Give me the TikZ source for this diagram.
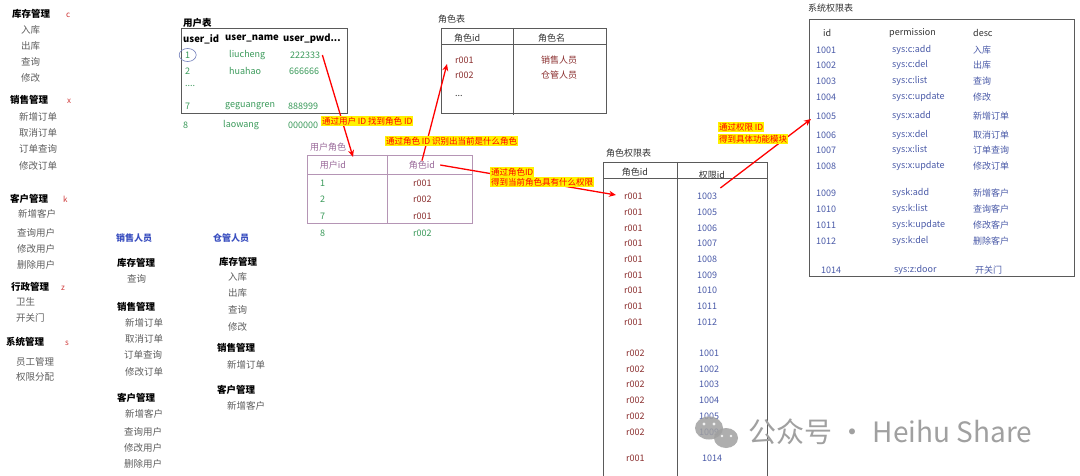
\documentclass[tikz,border=0pt]{standalone}
\usepackage{fontspec}
\setmainfont{Noto Sans CJK SC}
\usetikzlibrary{arrows.meta}
\definecolor{itemgray}{HTML}{5E5E5E}
\definecolor{letred}{HTML}{D03A3A}
\definecolor{staffblue}{HTML}{3A4FC0}
\definecolor{dgreen}{HTML}{3A9A5A}
\definecolor{dred}{HTML}{8B2F2F}
\definecolor{mauve}{HTML}{9A6A9A}
\definecolor{mauveline}{HTML}{B595B5}
\definecolor{pblue}{HTML}{4A5AA8}
\definecolor{tline}{HTML}{5A5A5A}
\definecolor{dtext}{HTML}{333333}
\definecolor{wm}{HTML}{A0A0A0}
\tikzset{
  txt/.style={anchor=west,inner sep=0pt,font=\fontsize{9}{11}\selectfont},
  mh/.style={txt,font=\fontsize{9.5}{11}\selectfont\bfseries,text=black},
  mi/.style={txt,font=\fontsize{9.5}{11}\selectfont,text=itemgray},
  ml/.style={txt,font=\fontsize{8}{10}\selectfont,text=letred},
  sb/.style={txt,font=\fontsize{9}{11}\selectfont\bfseries,text=staffblue},
  th/.style={txt,font=\fontsize{9.5}{11}\selectfont\bfseries,text=black},
  gn/.style={txt,text=dgreen},
  rd/.style={txt,text=dred},
  dk/.style={txt,text=dtext},
  mv/.style={txt,text=mauve},
  pb/.style={txt,text=pblue},
  tbl/.style={draw=tline,line width=0.8pt},
  urtbl/.style={draw=mauveline,line width=0.8pt},
  lab/.style={anchor=west,inner sep=0.8pt,fill=yellow,text=red,font=\fontsize{8.5}{10}\selectfont},
  rarrow/.style={draw=red,line width=1.3pt,-{Stealth[length=7pt,width=6pt]}},
}
\begin{document}
\begin{tikzpicture}[x=1pt,y=-1pt]
\useasboundingbox (0,0) rectangle (1080,476);
\fill[white] (0,0) rectangle (1080,476);

% ---------- left menu ----------
\node[mh] (m1) at (12,14) {库存管理};
\node[ml] (m1l) at (66,15) {c};
\node[mi] (m1a) at (21,30) {入库};
\node[mi] (m1b) at (21,46) {出库};
\node[mi] (m1c) at (21,62) {查询};
\node[mi] (m1d) at (21,78) {修改};
\node[mh] (m2) at (10,100) {销售管理};
\node[ml] (m2l) at (67,101) {x};
\node[mi] (m2a) at (19,117) {新增订单};
\node[mi] (m2b) at (19,133) {取消订单};
\node[mi] (m2c) at (19,149) {订单查询};
\node[mi] (m2d) at (19,166) {修改订单};
\node[mh] (m3) at (10,199) {客户管理};
\node[ml] (m3l) at (63,199) {k};
\node[mi] (m3a) at (18,214) {新增客户};
\node[mi] (m3b) at (17,233) {查询用户};
\node[mi] (m3c) at (17,249) {修改用户};
\node[mi] (m3d) at (17,265) {删除用户};
\node[mh] (m4) at (11,287) {行政管理};
\node[ml] (m4l) at (61,288) {z};
\node[mi] (m4a) at (16,302) {卫生};
\node[mi] (m4b) at (16,318) {开关门};
\node[mh] (m5) at (6,342) {系统管理};
\node[ml] (m5l) at (65,343) {s};
\node[mi] (m5a) at (16,362) {员工管理};
\node[mi] (m5b) at (16,377) {权限分配};

% ---------- staff ----------
\node[sb] (s1) at (116,238) {销售人员};
\node[sb] (s2) at (213,238) {仓管人员};
\node[mh] (s1h1) at (117,263) {库存管理};
\node[mi] (s1a) at (127,279) {查询};
\node[mh] (s1h2) at (117,307) {销售管理};
\node[mi] (s1b) at (125,323) {新增订单};
\node[mi] (s1c) at (125,339) {取消订单};
\node[mi] (s1d) at (124,355) {订单查询};
\node[mi] (s1e) at (125,372) {修改订单};
\node[mh] (s1h3) at (117,398) {客户管理};
\node[mi] (s1f) at (125,414) {新增客户};
\node[mi] (s1g) at (124,432) {查询用户};
\node[mi] (s1h) at (124,448) {修改用户};
\node[mi] (s1i) at (124,464) {删除用户};
\node[mh] (s2h1) at (219,262) {库存管理};
\node[mi] (s2a) at (228,277) {入库};
\node[mi] (s2b) at (228,293) {出库};
\node[mi] (s2c) at (228,310) {查询};
\node[mi] (s2d) at (228,327) {修改};
\node[mh] (s2h2) at (217,348) {销售管理};
\node[mi] (s2e) at (227,365) {新增订单};
\node[mh] (s2h3) at (217,390) {客户管理};
\node[mi] (s2f) at (227,406) {新增客户};

% ---------- user table ----------
\node[th] (ut) at (183,23) {用户表};
\draw[tbl] (181,28) rectangle (347,113);
\node[th] (uh1) at (183,39) {user\_id};
\node[th] (uh2) at (225,39) {user\_name};
\node[th] (uh3) at (283,39) {user\_pwd...};
\node[gn] (uid1) at (185,55) {1};
\node[gn] (un1) at (229,55) {liucheng};
\node[gn] (pwd1) at (290,55) {222333};
\node[gn] (uid2) at (185,71) {2};
\node[gn] (un2) at (229,71) {huahao};
\node[gn] (pwd2) at (289,71) {666666};
\node[gn] (udots) at (185,86) {....};
\node[gn] (uid7) at (185,106) {7};
\node[gn] (un7) at (225,106) {geguangren};
\node[gn] (pwd7) at (288,106) {888999};
\node[gn] (uid8) at (183,125) {8};
\node[gn] (un8) at (223,125) {laowang};
\node[gn] (pwd8) at (288,125) {000000};
\draw[draw=pblue!80,line width=0.6pt] (uid1.center) ellipse [x radius=8.5pt, y radius=6.5pt];

% ---------- role table ----------
\node[dk] (rt) at (438,19) {角色表};
\draw[tbl] (441,28) rectangle (606,113);
\draw[tbl] (441,44) -- (606,44);
\draw[tbl] (513,28) -- (513,115);
\node[dk] (rh1) at (454,38) {角色id};
\node[dk] (rh2) at (538,38) {角色名};
\node[rd] (r1) at (455,60) {r001};
\node[rd] (rn1) at (541,60) {销售人员};
\node[rd] (r2) at (455,75) {r002};
\node[rd] (rn2) at (541,75) {仓管人员};
\node[dk] (rdots) at (455,96) {...};

% ---------- user-role table ----------
\node[mv] (urt) at (310,147) {用户角色};
\draw[urtbl] (307,155) rectangle (472,223);
\draw[urtbl] (307,174) -- (472,174);
\draw[urtbl] (387,155) -- (387,223);
\node[mv,anchor=center] (urh1) at (333,165) {用户id};
\node[mv,anchor=center] (urh2) at (422,165) {角色id};
\node[gn] (ur1) at (320,183) {1};
\node[rd] (ur1r) at (413,183) {r001};
\node[gn] (ur2) at (320,199) {2};
\node[rd] (ur2r) at (413,199) {r002};
\node[gn] (ur3) at (320,216) {7};
\node[rd] (ur3r) at (413,216) {r001};
\node[gn] (ur4) at (320,233) {8};
\node[gn] (ur4r) at (413,233) {r002};

% ---------- role-permission table ----------
\node[dk] (rpt) at (606,153) {角色权限表};
\draw[tbl] (603,476) -- (603,162) -- (767,162) -- (767,476);
\draw[tbl] (603,178) -- (767,178);
\draw[tbl] (677,162) -- (677,476);
\node[dk,anchor=center] (rph1) at (635,172) {角色id};
\node[dk,anchor=center] (rph2) at (712,175) {权限id};
\foreach \y/\p [count=\i] in {196/1003,212/1005,228/1006,243/1007,259/1008,275/1009,290/1010,306/1011,322/1012}{
  \node[rd] (rpa\i) at (624,\y) {r001};
  \node[pb] (rpb\i) at (697,\y) {\p};
}
\foreach \y/\p [count=\i] in {353/1001,369/1002,384/1003,400/1004,416/1005,432/1009}{
  \node[rd] (rqa\i) at (626,\y) {r002};
  \node[pb] (rqb\i) at (699,\y) {\p};
}
\node[rd] (rza) at (626,458) {r001};
\node[pb] (rzb) at (702,458) {1014};

% ---------- permission table ----------
\node[dk] (pt) at (808,8) {系统权限表};
\draw[tbl] (809,19) rectangle (1074,276);
\node[dk] (ph1) at (823,33) {id};
\node[dk] (ph2) at (889,33) {permission};
\node[dk] (ph3) at (973,33) {desc};
\foreach \y/\a/\b/\c [count=\i] in {
  50/1001/sys:c:add/入库,
  65/1002/sys:c:del/出库,
  81/1003/sys:c:list/查询,
  97/1004/sys:c:update/修改,
  116/1005/sys:x:add/新增订单,
  135/1006/sys:x:del/取消订单,
  150/1007/sys:x:list/订单查询,
  166/1008/sys:x:update/修改订单,
  193/1009/sysk:add/新增客户,
  209/1010/sys:k:list/查询客户,
  225/1011/sys:k:update/修改客户,
  241/1012/sys:k:del/删除客户}{
  \node[pb] (pa\i) at (816,\y) {\a};
  \node[pb] (pp\i) at (892,\y) {\b};
  \node[pb] (pd\i) at (973,\y) {\c};
}
\node[pb] (pa14) at (821,270) {1014};
\node[pb] (pp14) at (894,270) {sys:z:door};
\node[pb] (pd14) at (975,270) {开关门};

% ---------- arrows ----------
\coordinate (tip1) at (353,157);
\coordinate (tip2) at (447,64);
\draw[rarrow] ([xshift=2pt]pwd1.east) -- (tip1);
\draw[rarrow] (urh2.north) -- (tip2);
\draw[rarrow] ([xshift=5pt]urh2.east) -- ([xshift=-8pt,yshift=1pt]rpa1.west);
\draw[rarrow] ([xshift=3pt,yshift=8pt]rpb1.east) -- ([xshift=-5pt,yshift=-3pt]pa5.west);

% ---------- labels ----------
\node[lab] (l1) at (321,121) {通过用户 ID 找到角色 ID};
\node[lab] (l2) at (385,141) {通过角色 ID 识别出当前是什么角色};
\node[lab] (l3a) at (490,172) {通过角色ID};
\node[lab] (l3b) at (490,182) {得到当前角色具有什么权限};
\node[lab] (l4a) at (718,127) {通过权限 ID};
\node[lab] (l4b) at (718,139) {得到具体功能模块};

% ---------- watermark ----------
\begin{scope}[opacity=0.85]
\fill[wm] (709,428) ellipse [x radius=14pt, y radius=11.5pt];
\fill[wm] (726,438) ellipse [x radius=12pt, y radius=10pt];
\fill[white] (704,424) circle (1.6pt);
\fill[white] (714,424) circle (1.6pt);
\fill[white] (722,436) circle (1.4pt);
\fill[white] (731,436) circle (1.4pt);
\end{scope}
\node[anchor=west,inner sep=0pt,text=wm,font=\fontsize{28}{32}\selectfont] (wmt) at (748,432) {公众号 · Heihu Share};
\end{tikzpicture}
\end{document}
